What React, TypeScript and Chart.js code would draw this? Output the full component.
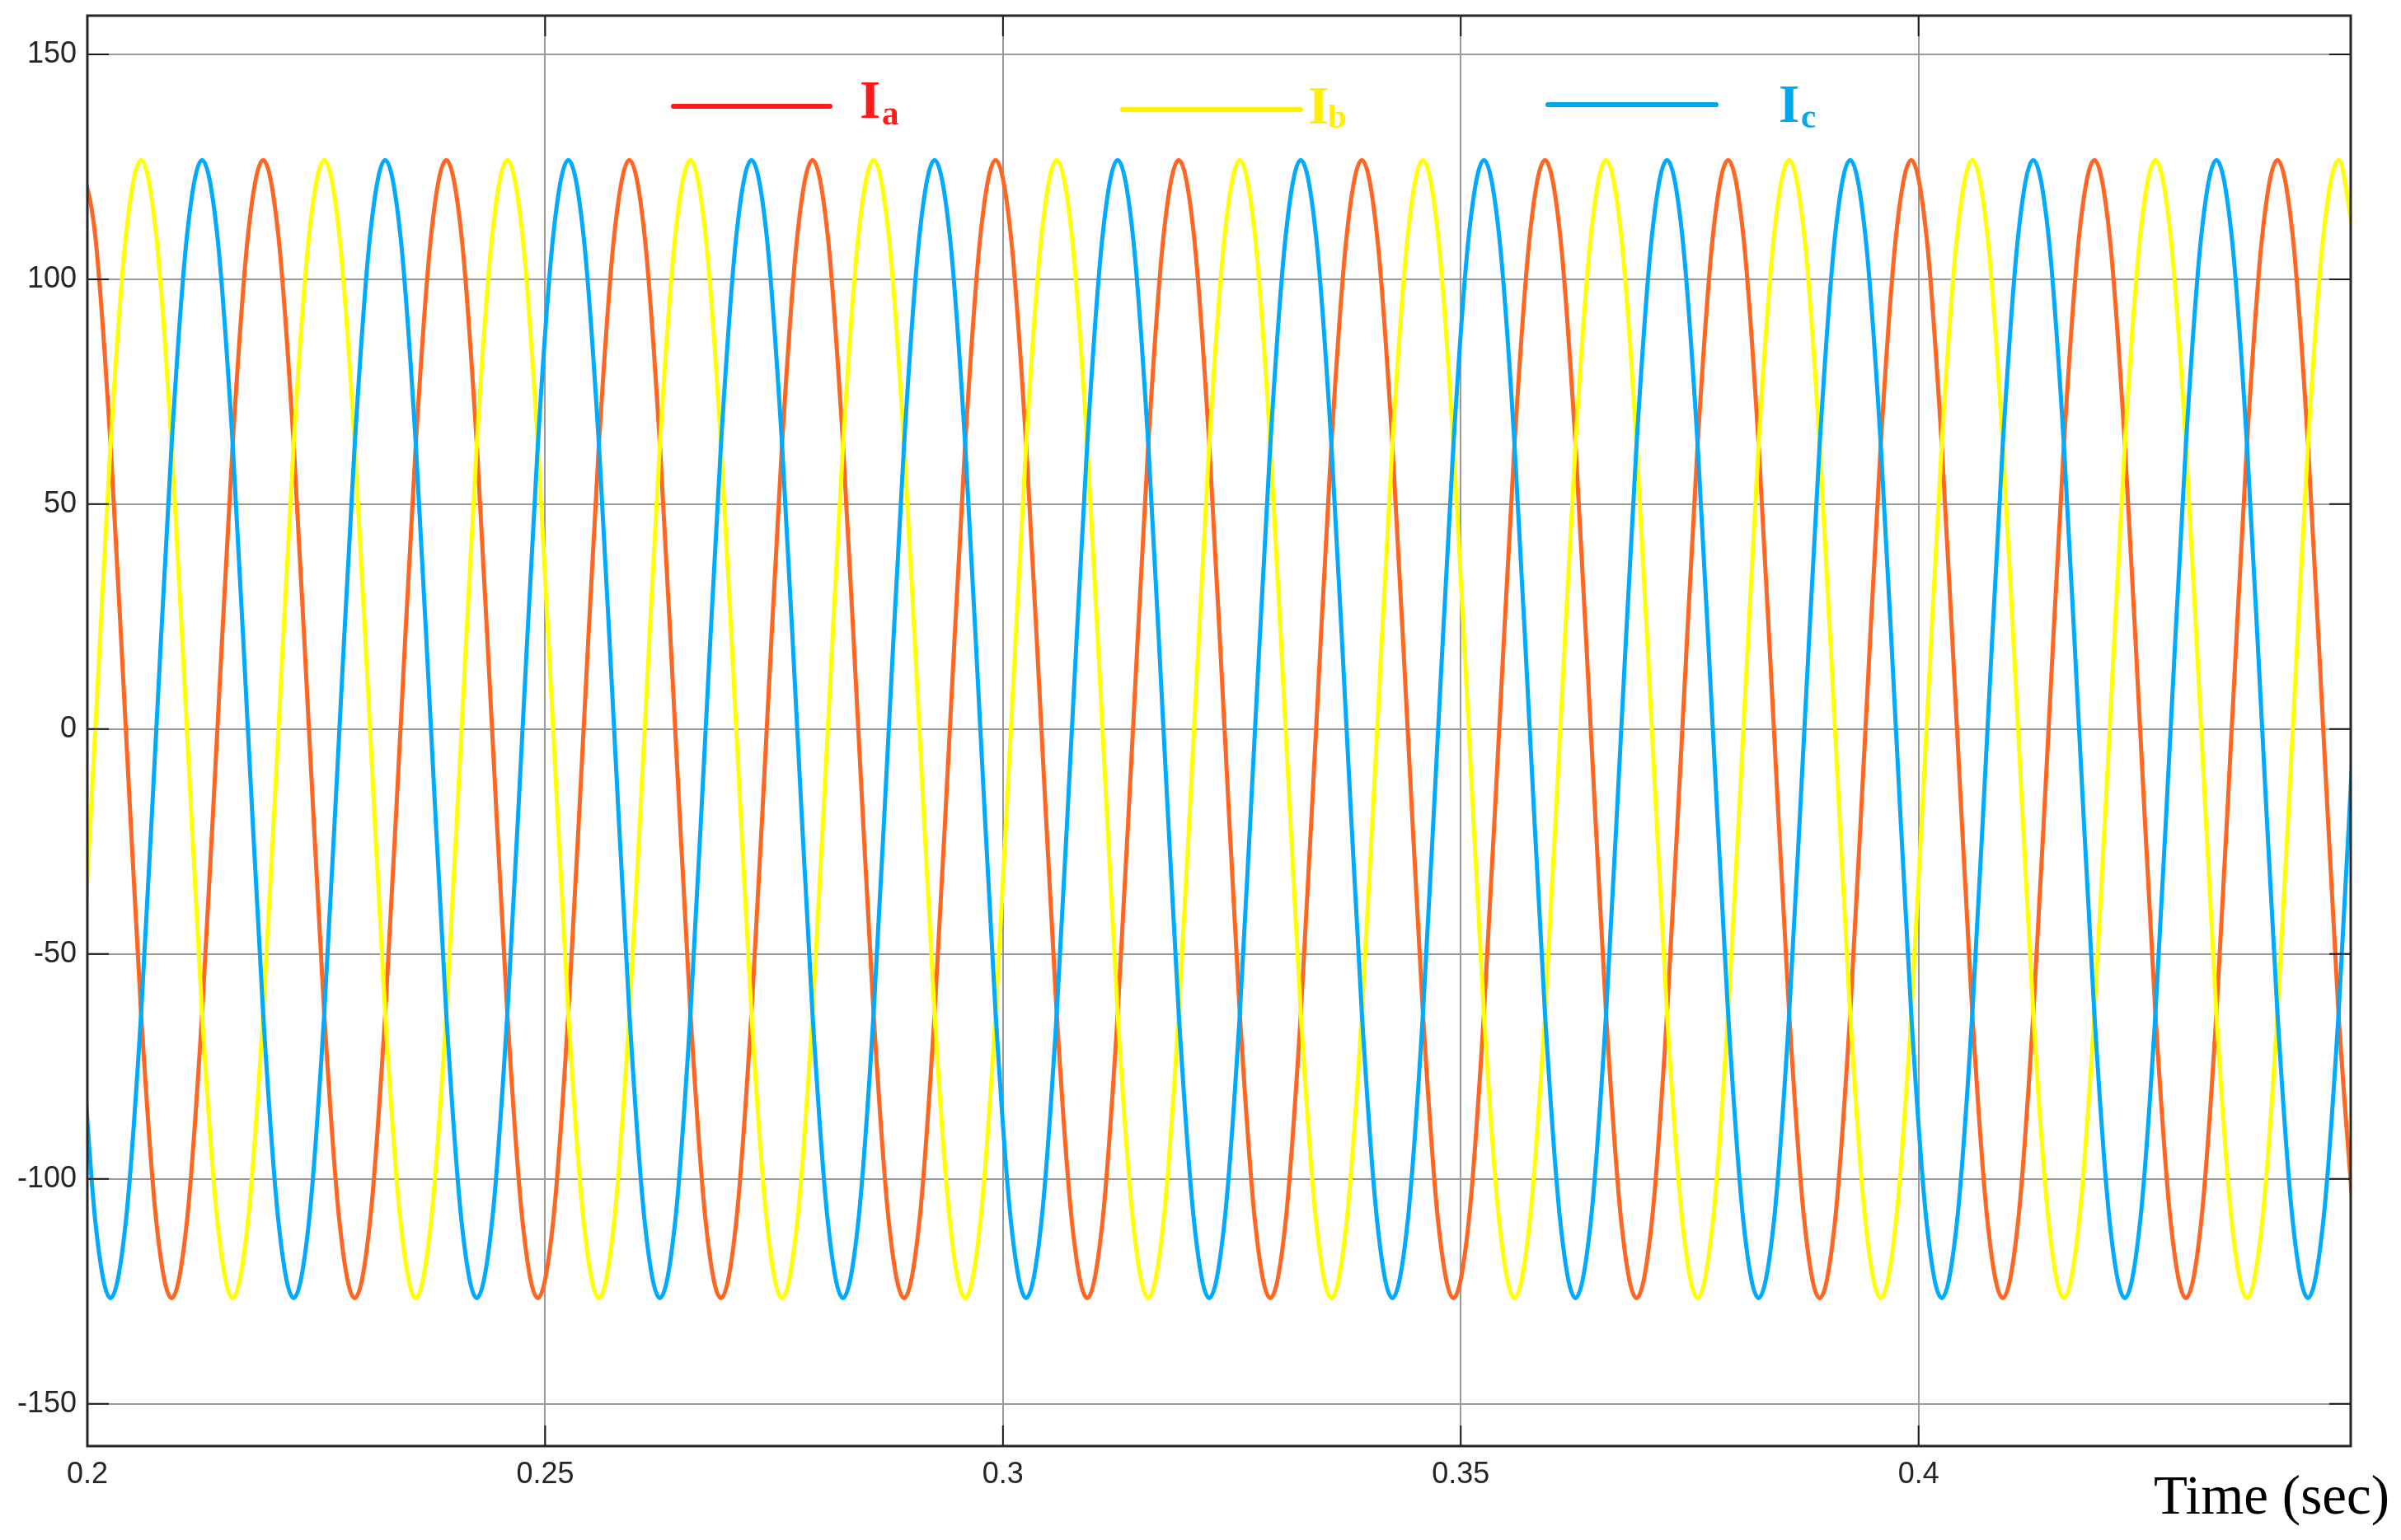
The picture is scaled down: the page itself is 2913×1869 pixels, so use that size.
import React, { useEffect, useRef } from 'react';
import { Chart, registerables } from 'chart.js';

Chart.register(...registerables);

// Sample times (s)
const TIME = [
  0.1992, 0.20087, 0.20253, 0.2042, 0.20587, 0.20753, 0.2092, 0.21087, 0.21253, 0.2142, 0.21587, 0.21753,
  0.2192, 0.22087, 0.22253, 0.2242, 0.22587, 0.22753, 0.2292, 0.23087, 0.23253, 0.2342, 0.23587, 0.23753,
  0.2392, 0.24087, 0.24253, 0.2442, 0.24587, 0.24753, 0.2492, 0.25087, 0.25253, 0.2542, 0.25587, 0.25753,
  0.2592, 0.26087, 0.26253, 0.2642, 0.26587, 0.26753, 0.2692, 0.27087, 0.27253, 0.2742, 0.27587, 0.27753,
  0.2792, 0.28087, 0.28253, 0.2842, 0.28587, 0.28753, 0.2892, 0.29087, 0.29253, 0.2942, 0.29587, 0.29753,
  0.2992, 0.30087, 0.30253, 0.3042, 0.30587, 0.30753, 0.3092, 0.31087, 0.31253, 0.3142, 0.31587, 0.31753,
  0.3192, 0.32087, 0.32253, 0.3242, 0.32587, 0.32753, 0.3292, 0.33087, 0.33253, 0.3342, 0.33587, 0.33753,
  0.3392, 0.34087, 0.34253, 0.3442, 0.34587, 0.34753, 0.3492, 0.35087, 0.35253, 0.3542, 0.35587, 0.35753,
  0.3592, 0.36087, 0.36253, 0.3642, 0.36587, 0.36753, 0.3692, 0.37087, 0.37253, 0.3742, 0.37587, 0.37753,
  0.3792, 0.38087, 0.38253, 0.3842, 0.38587, 0.38753, 0.3892, 0.39087, 0.39253, 0.3942, 0.39587, 0.39753,
  0.3992, 0.40087, 0.40253, 0.4042, 0.40587, 0.40753, 0.4092, 0.41087, 0.41253, 0.4142, 0.41587, 0.41753,
  0.4192, 0.42087, 0.42253, 0.4242, 0.42587, 0.42753, 0.4292, 0.43087, 0.43253, 0.4342, 0.43587, 0.43753,
  0.4392, 0.44087, 0.44253, 0.4442, 0.44587, 0.44753,
];

// Phase currents (A)
const IA = [
  126.5, 109.5, 63.3, 0, -63.3, -109.5, -126.5, -109.5, -63.3, 0, 63.3, 109.5,
  126.5, 109.5, 63.3, 0, -63.3, -109.5, -126.5, -109.5, -63.3, 0, 63.3, 109.5,
  126.5, 109.5, 63.3, 0, -63.3, -109.5, -126.5, -109.5, -63.3, 0, 63.3, 109.5,
  126.5, 109.5, 63.3, 0, -63.3, -109.5, -126.5, -109.5, -63.3, 0, 63.3, 109.5,
  126.5, 109.5, 63.3, 0, -63.3, -109.5, -126.5, -109.5, -63.3, 0, 63.3, 109.5,
  126.5, 109.5, 63.3, 0, -63.3, -109.5, -126.5, -109.5, -63.3, 0, 63.3, 109.5,
  126.5, 109.5, 63.3, 0, -63.3, -109.5, -126.5, -109.5, -63.3, 0, 63.3, 109.5,
  126.5, 109.5, 63.3, 0, -63.3, -109.5, -126.5, -109.5, -63.3, 0, 63.3, 109.5,
  126.5, 109.5, 63.3, 0, -63.3, -109.5, -126.5, -109.5, -63.3, 0, 63.3, 109.5,
  126.5, 109.5, 63.3, 0, -63.3, -109.5, -126.5, -109.5, -63.3, 0, 63.3, 109.5,
  126.5, 109.5, 63.3, 0, -63.3, -109.5, -126.5, -109.5, -63.3, 0, 63.3, 109.5,
  126.5, 109.5, 63.3, 0, -63.3, -109.5, -126.5, -109.5, -63.3, 0, 63.3, 109.5,
  126.5, 109.5, 63.3, 0, -63.3, -109.5,
];

const IB = [
  -63.3, 0, 63.3, 109.5, 126.5, 109.5, 63.3, 0, -63.3, -109.5, -126.5, -109.5,
  -63.3, 0, 63.3, 109.5, 126.5, 109.5, 63.3, 0, -63.3, -109.5, -126.5, -109.5,
  -63.3, 0, 63.3, 109.5, 126.5, 109.5, 63.3, 0, -63.3, -109.5, -126.5, -109.5,
  -63.3, 0, 63.3, 109.5, 126.5, 109.5, 63.3, 0, -63.3, -109.5, -126.5, -109.5,
  -63.3, 0, 63.3, 109.5, 126.5, 109.5, 63.3, 0, -63.3, -109.5, -126.5, -109.5,
  -63.3, 0, 63.3, 109.5, 126.5, 109.5, 63.3, 0, -63.3, -109.5, -126.5, -109.5,
  -63.3, 0, 63.3, 109.5, 126.5, 109.5, 63.3, 0, -63.3, -109.5, -126.5, -109.5,
  -63.3, 0, 63.3, 109.5, 126.5, 109.5, 63.3, 0, -63.3, -109.5, -126.5, -109.5,
  -63.3, 0, 63.3, 109.5, 126.5, 109.5, 63.3, 0, -63.3, -109.5, -126.5, -109.5,
  -63.3, 0, 63.3, 109.5, 126.5, 109.5, 63.3, 0, -63.3, -109.5, -126.5, -109.5,
  -63.3, 0, 63.3, 109.5, 126.5, 109.5, 63.3, 0, -63.3, -109.5, -126.5, -109.5,
  -63.3, 0, 63.3, 109.5, 126.5, 109.5, 63.3, 0, -63.3, -109.5, -126.5, -109.5,
  -63.3, 0, 63.3, 109.5, 126.5, 109.5,
];

const IC = [
  -63.3, -109.5, -126.5, -109.5, -63.3, 0, 63.3, 109.5, 126.5, 109.5, 63.3, 0,
  -63.3, -109.5, -126.5, -109.5, -63.3, 0, 63.3, 109.5, 126.5, 109.5, 63.3, 0,
  -63.3, -109.5, -126.5, -109.5, -63.3, 0, 63.3, 109.5, 126.5, 109.5, 63.3, 0,
  -63.3, -109.5, -126.5, -109.5, -63.3, 0, 63.3, 109.5, 126.5, 109.5, 63.3, 0,
  -63.3, -109.5, -126.5, -109.5, -63.3, 0, 63.3, 109.5, 126.5, 109.5, 63.3, 0,
  -63.3, -109.5, -126.5, -109.5, -63.3, 0, 63.3, 109.5, 126.5, 109.5, 63.3, 0,
  -63.3, -109.5, -126.5, -109.5, -63.3, 0, 63.3, 109.5, 126.5, 109.5, 63.3, 0,
  -63.3, -109.5, -126.5, -109.5, -63.3, 0, 63.3, 109.5, 126.5, 109.5, 63.3, 0,
  -63.3, -109.5, -126.5, -109.5, -63.3, 0, 63.3, 109.5, 126.5, 109.5, 63.3, 0,
  -63.3, -109.5, -126.5, -109.5, -63.3, 0, 63.3, 109.5, 126.5, 109.5, 63.3, 0,
  -63.3, -109.5, -126.5, -109.5, -63.3, 0, 63.3, 109.5, 126.5, 109.5, 63.3, 0,
  -63.3, -109.5, -126.5, -109.5, -63.3, 0, 63.3, 109.5, 126.5, 109.5, 63.3, 0,
  -63.3, -109.5, -126.5, -109.5, -63.3, 0,
];

const X_TICKS = [0.2, 0.25, 0.3, 0.35, 0.4];
const Y_TICKS = [-150, -100, -50, 0, 50, 100, 150];
const X_MIN = 0.2;
const X_MAX = 0.4472;
const Y_MIN = -159.4;
const Y_MAX = 158.6;
const X_TITLE = 'Time (sec)';

const SERIES_NAMES = ['I', 'I', 'I'];
const SERIES_SUBS = ['a', 'b', 'c'];
const LINE_COLORS = ['#FF6622', '#FFFF00', '#00AAFF'];
const LEGEND_COLORS = ['#FF1A1A', '#FFF000', '#00A8EC'];

// legend layout (pixels)
const LEGEND_LAYOUT = [
  { x1: 817, x2: 1007, y: 129, tx: 1043, ty: 143, sx: 1070, sy: 151 },
  { x1: 1362, x2: 1578, y: 133, tx: 1587, ty: 150, sx: 1611, sy: 155 },
  { x1: 1878, x2: 2082, y: 127, tx: 2158, ty: 148, sx: 2185, sy: 155 },
];

const W = 2913;
const H = 1869;

const framePlugin = {
  id: 'frame',
  afterDraw(chart: any) {
    const { ctx, chartArea: a, scales } = chart;
    const x = scales.x;
    const y = scales.y;
    ctx.save();
    // tick marks (inside)
    ctx.strokeStyle = '#1a1a1a';
    ctx.lineWidth = 2;
    ctx.beginPath();
    for (const v of Y_TICKS) {
      const py = y.getPixelForValue(v);
      ctx.moveTo(a.left, py);
      ctx.lineTo(a.left + 26, py);
      ctx.moveTo(a.right, py);
      ctx.lineTo(a.right - 26, py);
    }
    for (const v of X_TICKS) {
      const px = x.getPixelForValue(v);
      ctx.moveTo(px, a.bottom);
      ctx.lineTo(px, a.bottom - 25);
      ctx.moveTo(px, a.top);
      ctx.lineTo(px, a.top + 25);
    }
    ctx.stroke();
    // box
    ctx.strokeStyle = '#262626';
    ctx.lineWidth = 3;
    ctx.strokeRect(a.left, a.top, a.right - a.left, a.bottom - a.top);

    // legend
    ctx.lineCap = 'round';
    LEGEND_LAYOUT.forEach((L, i) => {
      ctx.strokeStyle = LEGEND_COLORS[i];
      ctx.lineWidth = 6;
      ctx.beginPath();
      ctx.moveTo(L.x1, L.y);
      ctx.lineTo(L.x2, L.y);
      ctx.stroke();
      ctx.fillStyle = LEGEND_COLORS[i];
      ctx.textAlign = 'left';
      ctx.textBaseline = 'alphabetic';
      ctx.font = 'bold 65px "Liberation Serif", "Times New Roman", serif';
      ctx.fillText(SERIES_NAMES[i], L.tx, L.ty);
      ctx.font = 'bold 41px "Liberation Serif", "Times New Roman", serif';
      ctx.fillText(SERIES_SUBS[i], L.sx, L.sy);
    });

    // x title
    ctx.fillStyle = '#000';
    ctx.font = '67px "Liberation Serif", "Times New Roman", serif';
    ctx.textAlign = 'right';
    ctx.textBaseline = 'alphabetic';
    ctx.fillText(X_TITLE, 2899, 1837);
    ctx.restore();
  },
};

function makeData(values: number[]) {
  return values.map((v, i) => ({ x: TIME[i], y: v }));
}

export default function App() {
  const ref = useRef<HTMLCanvasElement | null>(null);
  useEffect(() => {
    const canvas = ref.current;
    if (!canvas) return;
    const tickFont = { family: '"Liberation Sans", Arial, sans-serif', size: 36 };
    const chart = new Chart(canvas, {
      type: 'line',
      data: {
        datasets: [
          { label: 'Ic', data: makeData(IC), borderColor: LINE_COLORS[2] },
          { label: 'Ib', data: makeData(IB), borderColor: LINE_COLORS[1] },
          { label: 'Ia', data: makeData(IA), borderColor: LINE_COLORS[0] },
        ].map((d) => ({
          ...d,
          borderWidth: 5,
          pointRadius: 0,
          fill: false,
          cubicInterpolationMode: 'monotone' as const,
          clip: 0,
        })),
      },
      options: {
        animation: false,
        responsive: false,
        devicePixelRatio: 1,
        layout: { padding: { left: 0, top: 19, right: W - 2852, bottom: 0 } },
        plugins: { legend: { display: false }, tooltip: { enabled: false } },
        scales: {
          x: {
            type: 'linear',
            min: X_MIN,
            max: X_MAX,
            afterBuildTicks: (s: any) => {
              s.ticks = X_TICKS.map((v) => ({ value: v }));
            },
            afterFit: (s: any) => {
              s.height = H - 1755;
              s.paddingLeft = 0;
              s.paddingRight = 0;
            },
            ticks: {
              callback: (v: any) => String(v),
              font: tickFont,
              color: '#262626',
              padding: 13,
              maxRotation: 0,
              autoSkip: false,
            },
            grid: { color: '#9a9a9a', lineWidth: 2, drawTicks: false },
            border: { display: false },
          },
          y: {
            type: 'linear',
            min: Y_MIN,
            max: Y_MAX,
            afterBuildTicks: (s: any) => {
              s.ticks = Y_TICKS.map((v) => ({ value: v }));
            },
            afterFit: (s: any) => {
              s.width = 106;
              s.paddingTop = 0;
              s.paddingBottom = 0;
            },
            ticks: {
              callback: (v: any) => String(v),
              font: tickFont,
              color: '#262626',
              padding: 13,
              autoSkip: false,
            },
            grid: { color: '#9a9a9a', lineWidth: 2, drawTicks: false },
            border: { display: false },
          },
        },
      } as any,
      plugins: [framePlugin],
    });
    return () => chart.destroy();
  }, []);
  return (
    <div style={{ position: 'fixed', left: 0, top: 0, width: W, height: H, background: '#fff' }}>
      <canvas ref={ref} width={W} height={H} style={{ display: 'block' }} />
    </div>
  );
}
